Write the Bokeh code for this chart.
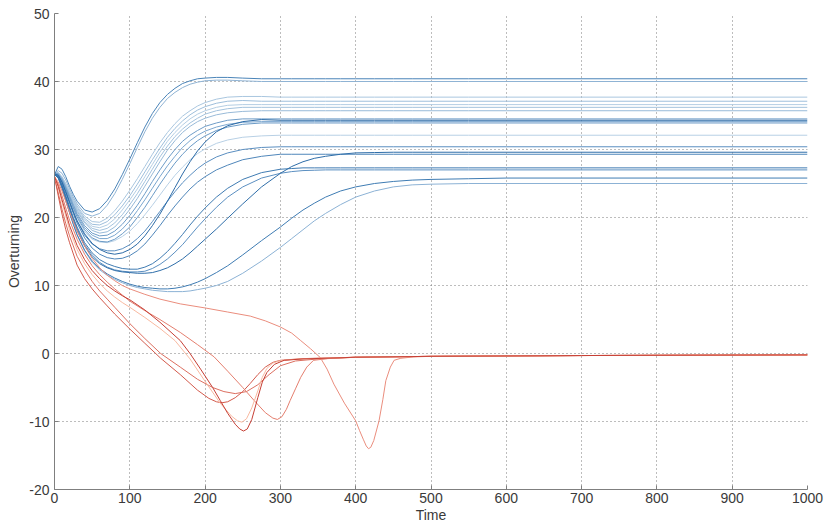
from bokeh.plotting import figure
from bokeh.models import FixedTicker, Range1d, CustomJSTickFormatter
from bokeh.embed import file_html
from bokeh.resources import INLINE

# ---------------- data ----------------
x_ticks = [0, 100, 200, 300, 400, 500, 600, 700, 800, 900, 1000]
y_ticks = [-20, -10, 0, 10, 20, 30, 40, 50]

# common time samples for the blue (recovering) runs
blue_time = [0, 5, 10, 15, 20, 25, 30, 40, 50, 60, 70, 80, 90, 100, 110, 120, 130, 140, 150, 160,
             170, 180, 190, 200, 215, 230, 250, 275,
             300, 315, 330, 345, 360, 380, 400, 425, 450, 475, 500, 550, 600, 1000]

blue_b1 = [26.3, 27.5, 27.1, 26.0, 24.6, 23.4, 22.4, 21.1, 20.8, 21.3, 22.5, 24.2, 26.3, 28.6, 31.0, 33.3,
           35.3, 36.9, 38.1, 39.0, 39.7, 40.1, 40.4, 40.5, 40.6, 40.6, 40.5, 40.4,
           40.4, 40.4, 40.4, 40.4, 40.4, 40.4, 40.4, 40.4, 40.4, 40.4, 40.4, 40.4, 40.4, 40.4]
blue_b2 = [26.4, 26.9, 26.5, 25.5, 24.2, 23.0, 22.0, 20.6, 20.2, 20.6, 21.8, 23.5, 25.6, 27.9, 30.3, 32.6,
           34.6, 36.2, 37.5, 38.4, 39.1, 39.6, 39.9, 40.1, 40.2, 40.2, 40.1, 40.0,
           40.0, 40.0, 40.0, 40.0, 40.0, 40.0, 40.0, 40.0, 40.0, 40.0, 40.0, 40.0, 40.0, 40.0]
blue_l1 = [26.4, 26.6, 26.0, 25.0, 23.8, 22.7, 21.7, 20.2, 19.4, 19.3, 19.9, 21.0, 22.4, 24.0, 25.7, 27.5,
           29.3, 31.0, 32.5, 33.8, 34.9, 35.7, 36.4, 36.9, 37.4, 37.7, 37.8, 37.8,
           37.7, 37.7, 37.7, 37.7, 37.7, 37.7, 37.7, 37.7, 37.7, 37.7, 37.7, 37.7, 37.7, 37.7]
blue_l2 = [26.4, 26.6, 25.9, 24.9, 23.7, 22.5, 21.5, 19.9, 19.0, 18.9, 19.4, 20.4, 21.7, 23.2, 24.9, 26.7,
           28.5, 30.2, 31.8, 33.1, 34.2, 35.1, 35.8, 36.3, 36.8, 37.1, 37.2, 37.1,
           37.1, 37.1, 37.1, 37.1, 37.1, 37.1, 37.1, 37.1, 37.1, 37.1, 37.1, 37.1, 37.1, 37.1]
blue_l3 = [26.4, 26.5, 25.9, 24.8, 23.6, 22.4, 21.3, 19.7, 18.7, 18.5, 18.9, 19.8, 21.1, 22.6, 24.2, 26.0,
           27.8, 29.6, 31.2, 32.5, 33.6, 34.5, 35.2, 35.7, 36.2, 36.5, 36.6, 36.6,
           36.6, 36.6, 36.6, 36.6, 36.6, 36.6, 36.6, 36.6, 36.6, 36.6, 36.6, 36.6, 36.6, 36.6]
blue_l4 = [26.4, 26.5, 25.8, 24.7, 23.5, 22.2, 21.1, 19.4, 18.4, 18.1, 18.4, 19.2, 20.4, 21.9, 23.5, 25.3,
           27.1, 28.9, 30.5, 31.9, 33.0, 33.9, 34.6, 35.2, 35.7, 36.0, 36.2, 36.2,
           36.2, 36.2, 36.2, 36.2, 36.2, 36.2, 36.2, 36.2, 36.2, 36.2, 36.2, 36.2, 36.2, 36.2]
blue_l5 = [26.4, 26.5, 25.7, 24.6, 23.3, 22.0, 20.9, 19.2, 18.1, 17.7, 17.9, 18.6, 19.8, 21.2, 22.8, 24.6,
           26.4, 28.2, 29.9, 31.3, 32.5, 33.4, 34.1, 34.6, 35.1, 35.4, 35.6, 35.7,
           35.7, 35.7, 35.7, 35.7, 35.7, 35.7, 35.7, 35.7, 35.7, 35.7, 35.7, 35.7, 35.7, 35.7]
blue_m1 = [26.4, 26.4, 25.6, 24.4, 23.1, 21.8, 20.6, 18.8, 17.7, 17.3, 17.4, 18.0, 19.0, 20.3, 21.8, 23.5,
           25.3, 27.0, 28.6, 30.0, 31.2, 32.1, 32.8, 33.4, 33.9, 34.3, 34.5, 34.5,
           34.5, 34.5, 34.5, 34.5, 34.5, 34.5, 34.5, 34.5, 34.5, 34.5, 34.5, 34.5, 34.5, 34.5]
blue_m2 = [26.4, 26.4, 25.5, 24.3, 23.0, 21.6, 20.4, 18.5, 17.4, 16.9, 16.9, 17.4, 18.3, 19.5, 21.0, 22.6,
           24.3, 26.0, 27.6, 29.0, 30.3, 31.3, 32.1, 32.7, 33.3, 33.7, 34.0, 34.1,
           34.1, 34.1, 34.1, 34.1, 34.1, 34.1, 34.1, 34.1, 34.1, 34.1, 34.1, 34.1, 34.1, 34.1]
blue_m3 = [26.4, 26.3, 25.4, 24.2, 22.8, 21.4, 20.1, 18.2, 17.0, 16.5, 16.4, 16.8, 17.6, 18.6, 20.0, 21.5,
           23.2, 24.9, 26.5, 28.0, 29.3, 30.4, 31.3, 32.0, 32.8, 33.3, 33.7, 33.9,
           33.9, 33.9, 33.9, 33.9, 33.9, 33.9, 33.9, 33.9, 33.9, 33.9, 33.9, 33.9, 33.9, 33.9]
blue_d1 = [26.4, 26.2, 25.2, 23.8, 22.3, 20.8, 19.5, 17.6, 16.2, 15.3, 14.8, 14.6, 14.8, 15.3, 16.1, 17.3,
           18.8, 20.5, 22.4, 24.4, 26.4, 28.2, 29.8, 31.1, 32.6, 33.5, 34.1, 34.4,
           34.3, 34.3, 34.3, 34.3, 34.3, 34.3, 34.3, 34.3, 34.3, 34.3, 34.3, 34.3, 34.3, 34.3]
blue_k1 = [26.4, 26.3, 25.3, 24.0, 22.6, 21.2, 19.9, 17.9, 16.8, 16.4, 16.3, 16.6, 17.2, 18.0, 19.1, 20.4,
           21.8, 23.3, 24.8, 26.2, 27.4, 28.5, 29.4, 30.1, 30.9, 31.4, 31.8, 32.0,
           32.1, 32.1, 32.1, 32.1, 32.1, 32.1, 32.1, 32.1, 32.1, 32.1, 32.1, 32.1, 32.1, 32.1]
blue_p1 = [26.4, 26.2, 25.2, 23.8, 22.3, 20.9, 19.5, 17.4, 16.1, 15.4, 15.1, 15.1, 15.4, 16.0, 16.9, 18.0,
           19.4, 20.9, 22.4, 23.8, 25.1, 26.2, 27.2, 28.0, 28.9, 29.5, 30.0, 30.3,
           30.4, 30.4, 30.4, 30.4, 30.4, 30.4, 30.4, 30.4, 30.4, 30.4, 30.4, 30.4, 30.4, 30.4]
blue_p2 = [26.4, 26.2, 25.1, 23.6, 22.1, 20.6, 19.2, 17.0, 15.5, 14.6, 14.1, 13.9, 14.0, 14.4, 15.1, 16.1,
           17.4, 18.8, 20.3, 21.7, 23.0, 24.2, 25.2, 26.0, 27.0, 27.7, 28.5, 29.0,
           29.3, 29.3, 29.3, 29.3, 29.3, 29.3, 29.3, 29.3, 29.3, 29.3, 29.3, 29.3, 29.3, 29.3]
blue_c1 = [26.3, 26.0, 24.8, 23.2, 21.6, 20.0, 18.6, 16.3, 14.8, 13.8, 13.2, 12.8, 12.5, 12.4, 12.4, 12.7,
           13.2, 14.0, 15.0, 16.2, 17.5, 18.9, 20.2, 21.4, 23.0, 24.3, 25.6, 26.6,
           27.1, 27.2, 27.3, 27.3, 27.3, 27.3, 27.3, 27.3, 27.3, 27.3, 27.3, 27.3, 27.3, 27.3]
blue_c2 = [26.3, 26.0, 24.7, 23.1, 21.4, 19.8, 18.4, 16.0, 14.5, 13.4, 12.7, 12.3, 12.1, 12.0, 12.0, 12.1,
           12.5, 13.1, 13.9, 14.9, 16.0, 17.3, 18.6, 19.8, 21.5, 23.0, 24.5, 25.8,
           26.5, 26.75, 26.9, 26.95, 27.0, 27.0, 27.0, 27.0, 27.0, 27.0, 27.0, 27.0, 27.0, 27.0]
blue_d2 = [26.3, 25.9, 24.6, 22.9, 21.2, 19.6, 18.1, 15.8, 14.2, 13.2, 12.6, 12.2, 12.0, 11.9, 11.8, 11.8,
           11.9, 12.2, 12.6, 13.2, 13.9, 14.8, 15.8, 16.8, 18.3, 19.9, 22.0, 24.5,
           26.5, 27.5, 28.2, 28.7, 29.0, 29.3, 29.5, 29.55, 29.6, 29.6, 29.6, 29.6, 29.6, 29.6]
blue_e1 = [26.3, 25.8, 24.3, 22.5, 20.7, 19.0, 17.5, 15.2, 13.6, 12.5, 11.7, 11.1, 10.6, 10.2, 9.9, 9.7,
           9.6, 9.5, 9.5, 9.6, 9.8, 10.1, 10.5, 11.0, 11.9, 12.9, 14.5, 16.6,
           18.6, 19.9, 21.1, 22.1, 23.0, 23.9, 24.5, 25.0, 25.3, 25.5, 25.6, 25.7, 25.8, 25.8]
blue_e2 = [26.3, 25.8, 24.3, 22.5, 20.7, 19.0, 17.4, 15.1, 13.4, 12.3, 11.5, 10.9, 10.4, 10.0, 9.7, 9.5,
           9.3, 9.2, 9.1, 9.1, 9.1, 9.2, 9.4, 9.6, 10.0, 10.6, 11.8, 13.6,
           15.6, 16.9, 18.2, 19.5, 20.6, 21.9, 23.0, 23.9, 24.5, 24.8, 24.9, 25.0, 25.0, 25.0]

blue_runs = [blue_l1, blue_l2, blue_l3, blue_l4, blue_l5, blue_k1, blue_b2, blue_e2,
             blue_m1, blue_m2, blue_m3, blue_p1, blue_p2, blue_c2, blue_c1,
             blue_e1, blue_d2, blue_d1, blue_b1]
blue_colors = ["#a9c6df", "#9dbedb", "#b3cde3", "#a3c2dd", "#98bad8", "#b8d0e5", "#8fb3d4", "#8cb2d5",
               "#6f9dc8", "#7aa6cf", "#6a9ac6", "#5a8ec0", "#4f86ba", "#5b8fc1", "#3f7bb2",
               "#3f7cb3", "#2f6ea9", "#2c6ba7", "#4a84b8"]

# red (collapsing) runs, each with its own time samples
red_r1_t = [0, 5, 10, 20, 30, 40, 50, 60, 70, 80, 90, 100, 120, 140, 167, 200, 230, 260, 280, 300, 315,
            327, 340, 353, 362, 371, 385, 400, 405, 410, 414, 417, 420, 424, 431, 436, 440, 446, 451,
            460, 477, 500, 600, 700, 1000]
red_r1_y = [26.0, 25.2, 23.9, 20.8, 18.0, 15.8, 14.0, 12.6, 11.5, 10.7, 10.0, 9.5, 8.7, 8.0, 7.3, 6.7,
            6.1, 5.5, 4.8, 3.9, 3.0, 1.9, 0.7, -0.6, -2.3, -4.5, -7.3, -9.9, -11.3, -12.6, -13.6, -14.0,
            -13.8, -12.8, -9.9, -6.8, -4.0, -2.0, -1.0, -0.7, -0.5, -0.42, -0.35, -0.3, -0.2]
red_r2_t = [0, 5, 10, 20, 30, 40, 50, 60, 70, 80, 90, 100, 120, 140, 160, 180, 200, 220, 235, 243, 249,
            255, 262, 270, 276, 282, 290, 300, 320, 350, 400, 500, 700, 1000]
red_r2_y = [26.0, 24.4, 22.2, 18.2, 15.3, 13.2, 11.6, 10.3, 9.2, 8.3, 7.5, 6.8, 5.3, 3.7, 1.9, -0.8,
            -4.1, -7.3, -9.2, -9.9, -10.1, -9.6, -8.0, -5.5, -3.5, -2.2, -1.4, -1.05, -0.85, -0.7,
            -0.55, -0.42, -0.3, -0.2]
red_r3_t = [0, 5, 10, 20, 30, 40, 50, 60, 70, 80, 90, 100, 120, 140, 167, 180, 194, 210, 220, 230, 240,
            246, 251, 256, 262, 270, 276, 282, 292, 305, 330, 400, 500, 700, 1000]
red_r3_y = [26.0, 24.6, 22.6, 18.8, 15.9, 13.8, 12.2, 11.0, 10.0, 9.2, 8.5, 7.9, 6.4, 4.6, 1.9, 0.0,
            -2.3, -5.0, -6.9, -8.8, -10.4, -11.1, -11.4, -11.1, -9.7, -6.5, -4.2, -2.8, -1.6, -1.0,
            -0.8, -0.55, -0.42, -0.3, -0.2]
red_r4_t = [0, 5, 10, 20, 30, 40, 50, 60, 70, 80, 90, 100, 120, 140, 167, 190, 212, 230, 250, 265, 280,
            290, 296, 302, 308, 313, 320, 327, 335, 344, 363, 400, 500, 700, 1000]
red_r4_y = [26.0, 24.9, 23.2, 19.6, 16.8, 14.6, 12.9, 11.6, 10.5, 9.5, 8.6, 7.7, 6.3, 5.0, 3.1, 1.3,
            -0.5, -2.6, -5.0, -6.9, -8.7, -9.5, -9.7, -9.3, -8.2, -6.9, -5.2, -3.5, -2.0, -1.0, -0.75,
            -0.55, -0.42, -0.3, -0.2]
red_r5_t = [0, 5, 10, 15, 20, 30, 40, 50, 60, 70, 80, 100, 120, 141, 167, 190, 205, 215, 222, 230, 240,
            250, 260, 270, 280, 290, 300, 330, 400, 500, 700, 1000]
red_r5_y = [26.0, 23.2, 20.5, 18.2, 16.3, 13.0, 11.0, 9.5, 8.2, 7.0, 5.8, 3.6, 1.5, -0.7, -3.1, -5.4,
            -6.6, -7.1, -7.25, -7.1, -6.5, -5.6, -4.4, -3.1, -2.0, -1.3, -1.0, -0.75, -0.55, -0.42,
            -0.3, -0.2]
red_r6_t = [0, 5, 10, 15, 20, 30, 40, 50, 60, 70, 80, 100, 120, 141, 167, 190, 210, 225, 240, 255, 270,
            285, 300, 320, 350, 400, 500, 700, 1000]
red_r6_y = [26.0, 23.6, 21.2, 19.1, 17.3, 14.3, 12.3, 10.6, 9.2, 8.0, 6.8, 4.4, 2.2, 0.0, -2.0, -3.8,
            -5.0, -5.6, -5.9, -5.6, -4.6, -3.1, -1.8, -1.1, -0.8, -0.55, -0.42, -0.3, -0.2]

red_runs = [(red_r6_t, red_r6_y), (red_r5_t, red_r5_y), (red_r4_t, red_r4_y),
            (red_r1_t, red_r1_y), (red_r2_t, red_r2_y), (red_r3_t, red_r3_y)]
red_colors = ["#dc6f60", "#d35a4c", "#e47e6e", "#ea8d7d", "#f8b9a0", "#c63f35"]

# ---------------- figure ----------------
FONT = "Liberation Sans"
p = figure(width=826, height=526, output_backend="svg", toolbar_location=None,
           x_range=Range1d(0, 1000), y_range=Range1d(-20, 50),
           min_border_left=54, min_border_right=19, min_border_top=13, min_border_bottom=37)
p.outline_line_color = None
p.background_fill_color = "white"
p.border_fill_color = "white"

for ys, c in zip(blue_runs, blue_colors):
    p.line(blue_time, ys, line_color=c, line_width=1.0, line_join="round")
for (ts, ys), c in zip(red_runs, red_colors):
    p.line(ts, ys, line_color=c, line_width=1.0, line_join="round")

p.xaxis.ticker = FixedTicker(ticks=x_ticks)
p.yaxis.ticker = FixedTicker(ticks=y_ticks)
p.xaxis.formatter = CustomJSTickFormatter(code="return tick.toString();")
p.yaxis.formatter = CustomJSTickFormatter(code="return tick.toString();")
p.xaxis.axis_label = "Time"
p.yaxis.axis_label = "Overturning"

for ax in (p.xaxis[0], p.yaxis[0]):
    ax.axis_line_color = "#7f7f7f"
    ax.axis_line_width = 1
    ax.major_tick_in = 4
    ax.major_tick_out = 0
    ax.major_tick_line_color = "#7f7f7f"
    ax.minor_tick_line_color = None
    ax.major_label_text_font = FONT
    ax.major_label_text_font_size = "14px"
    ax.major_label_text_color = "#3a3a3a"
    ax.axis_label_text_font = FONT
    ax.axis_label_text_font_size = "14px"
    ax.axis_label_text_font_style = "normal"
    ax.axis_label_text_color = "#3a3a3a"

p.xaxis.major_label_standoff = 3
p.xaxis.axis_label_standoff = 1
p.yaxis.major_label_standoff = 5
p.yaxis.axis_label_standoff = 4

for g in (p.xgrid[0], p.ygrid[0]):
    g.grid_line_color = "#7a7a7a"
    g.grid_line_dash = "1 3"
    g.grid_line_width = 1

open("out.html", "w").write(file_html(p, INLINE))
